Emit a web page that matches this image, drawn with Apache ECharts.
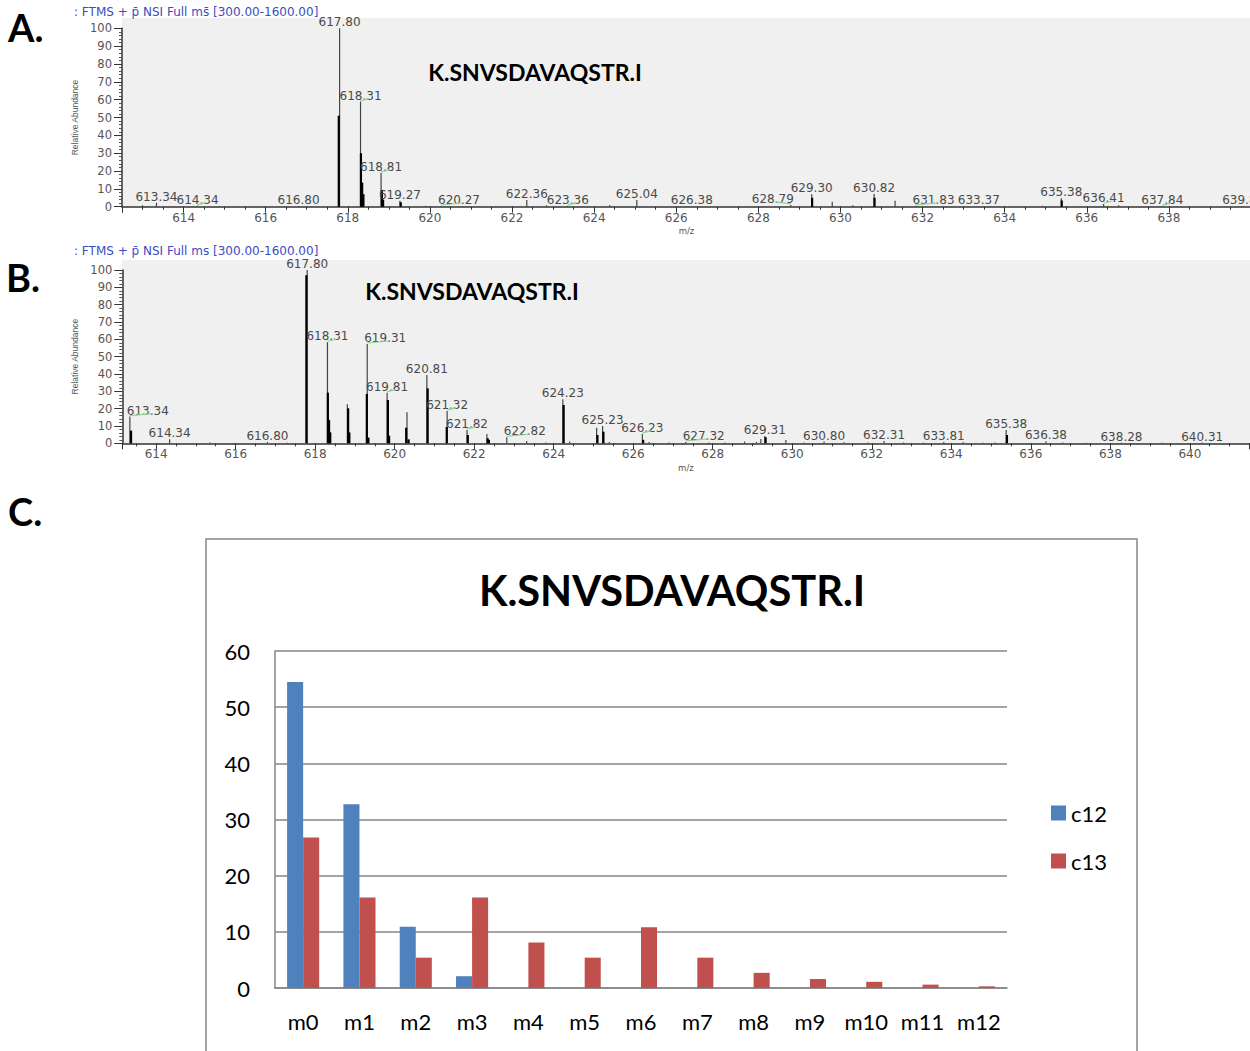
<!DOCTYPE html>
<html><head><meta charset="utf-8">
<script src="https://cdn.jsdelivr.net/npm/echarts@6/dist/echarts.min.js"></script>
<style>html,body{margin:0;padding:0;background:#fff}#c{width:1250px;height:1051px}</style>
</head><body><div id="c"></div>
<script>
// ---------- Panel A: spectrum ----------
const peakMzA  = [613.00, 613.34, 614.34, 616.80, 617.80, 618.31, 618.81, 619.27, 619.90, 620.27, 622.36, 622.84, 623.36, 624.38, 625.04, 626.38, 628.79, 629.30, 629.80, 630.30, 630.82, 631.33, 631.83, 633.37, 634.92, 635.38, 636.41, 636.78, 637.84, 639.81];
const peakIntA = [0.8, 2.2, 0.6, 0.3, 100, 58.9, 19.0, 3.4, 0.5, 0.4, 3.8, 0.8, 0.5, 1.0, 3.8, 0.3, 1.0, 7.0, 2.8, 0.8, 7.1, 3.4, 0.5, 0.3, 0.5, 4.7, 1.5, 0.8, 0.3, 0.3];
const coreMzA  = [617.78, 618.32, 618.35, 618.38, 618.83, 618.86, 619.29, 629.31, 630.83, 635.39];
const coreIntA = [51, 30, 13.5, 7, 9.4, 4, 2.5, 5, 5, 3.5];
const labelMzA = [613.34, 614.34, 616.80, 617.80, 618.31, 618.81, 619.27, 620.27, 622.36, 623.36, 625.04, 626.38, 628.79, 629.30, 630.82, 631.83, 633.37, 635.38, 636.41, 637.84, 639.81];

// ---------- Panel B: spectrum ----------
const peakMzB  = [613.34, 614.34, 615.35, 616.80, 617.30, 617.80, 618.31, 618.81, 619.31, 619.81, 620.31, 620.81, 621.32, 621.82, 622.32, 622.82, 623.32, 623.80, 624.23, 624.40, 625.08, 625.23, 625.40, 626.23, 626.40, 626.90, 627.32, 627.90, 628.30, 628.80, 629.10, 629.21, 629.31, 629.84, 630.30, 630.80, 631.30, 631.90, 632.31, 632.80, 633.30, 633.81, 634.30, 634.80, 635.10, 635.38, 636.38, 636.80, 637.40, 638.28, 639.30, 640.31];
const peakIntB = [15.4, 2.3, 0.4, 0.8, 0.3, 100, 58.3, 22.5, 57.3, 29.2, 17.9, 39.4, 18.7, 7.7, 5.4, 3.5, 1.3, 0.4, 25.4, 1.0, 9.0, 10.0, 0.8, 5.4, 0.8, 0.4, 0.8, 0.4, 0.5, 1.0, 0.8, 2.5, 4.2, 1.9, 0.5, 1.0, 0.6, 0.5, 1.3, 0.5, 0.4, 0.8, 0.6, 0.3, 0.4, 7.7, 1.2, 0.5, 0.3, 0.4, 0.3, 0.4];
const coreMzB  = [613.37, 617.78, 618.32, 618.35, 618.38, 618.83, 618.86, 619.30, 619.34, 619.83, 619.86, 620.29, 620.35, 620.83, 621.31, 621.84, 622.34, 622.37, 624.25, 625.10, 625.25, 626.25, 629.33, 635.40];
const coreIntB = [7.3, 97, 29.2, 13.5, 6.3, 20.2, 6.3, 28.5, 3.3, 25, 4.4, 9, 2.3, 31.7, 9.4, 4.8, 2.9, 2.0, 22.1, 4.8, 6.7, 2.0, 3.5, 4.8];
const labelMzB = [613.34, 614.34, 616.80, 617.80, 618.31, 619.31, 619.81, 620.81, 621.32, 621.82, 622.82, 624.23, 625.23, 626.23, 627.32, 629.31, 630.80, 632.31, 633.81, 635.38, 636.38, 638.28, 640.31];

// ---------- Panel C: bar chart ----------
const isoCategories = ['m0', 'm1', 'm2', 'm3', 'm4', 'm5', 'm6', 'm7', 'm8', 'm9', 'm10', 'm11', 'm12'];
const c12Values = [54.5, 32.7, 10.9, 2.1, 0, 0, 0, 0, 0, 0, 0, 0, 0];
const c13Values = [26.8, 16.1, 5.4, 16.1, 8.1, 5.4, 10.8, 5.4, 2.7, 1.6, 1.1, 0.6, 0.3];
const yTicksC = [0, 10, 20, 30, 40, 50, 60];

const peptide = 'K.SNVSDAVAQSTR.I';

// label styles of the instrument output: shifted labels and green flag marks
const labelAlignA = {'620.27': 'left', '631.83': 'left', '628.79': 'right'};
const labelAlignB = {'613.34': 'left', '619.31': 'left', '622.82': 'left', '627.32': 'left'};
const greenMarkA = ['614.34', '618.31', '618.81', '620.27', '623.36', '628.79', '631.83', '636.41', '637.84'];
const greenMarkB = ['613.34', '618.31', '619.31', '619.81', '621.32', '621.82', '622.82', '626.23', '627.32'];

const specFont = '"DejaVu Sans", sans-serif';
const excelFont = 'Lato, "Open Sans", sans-serif';

function pairs(xs, ys) { return xs.map((x, i) => [x, ys[i]]); }
function labelPairs(labels, xs, ys) {
  return labels.map(m => {
    let best = 0, d = 1e9;
    xs.forEach((x, i) => { const dd = Math.abs(x - m); if (dd < d) { d = dd; best = i; } });
    return [m, ys[best]];
  });
}

function stickRender(width, color) {
  return function (params, api) {
    const p0 = api.coord([api.value(0), 0]);
    const p1 = api.coord([api.value(0), api.value(1)]);
    return {type: 'line', shape: {x1: p0[0], y1: p0[1], x2: p1[0], y2: p1[1]},
      style: {stroke: color, lineWidth: width}};
  };
}
function labelRender(alignMap, greens) {
  return function (params, api) {
    const mz = api.value(0);
    const p = api.coord([mz, api.value(1)]);
    const txt = mz.toFixed(2);
    const al = alignMap[txt] || 'center';
    let x = p[0];
    if (al === 'left') x -= 3; else if (al === 'right') x += 3;
    const children = [{type: 'text', x: x, y: p[1],
      style: {text: txt, align: al, verticalAlign: 'bottom', fill: '#4a4a4a',
        fontSize: 12, fontFamily: specFont}}];
    if (greens.indexOf(txt) >= 0) {
      const len = al === 'left' ? 22 : (al === 'right' ? -16 : 9);
      children.push({type: 'line', shape: {x1: p[0], y1: p[1] - 1, x2: p[0] + len, y2: p[1] - 3},
        style: {stroke: '#8fd88f', lineWidth: 1.2}});
    }
    return {type: 'group', children: children};
  };
}

const evenInt = v => {
  const r = Math.round(v);
  return (Math.abs(v - r) < 1e-6 && r % 2 === 0) ? String(r) : '';
};

function specAxes(gi, min, max) {
  return [
    {gridIndex: gi, type: 'value', position: 'bottom', min: min, max: max, splitNumber: 56,
      axisLine: {onZero: false, lineStyle: {color: '#333', width: 1.5}},
      axisTick: {length: 3, lineStyle: {color: '#333', width: 1}},
      axisLabel: {formatter: evenInt, color: '#555', fontSize: 12, fontFamily: specFont, margin: 5,
        showMaxLabel: false, showMinLabel: false},
      splitLine: {show: false},
      name: 'm/z', nameLocation: 'middle', nameGap: 20,
      nameTextStyle: {color: '#555', fontSize: 8.5, fontFamily: specFont}},
    {gridIndex: gi, type: 'value', position: 'bottom', min: min, max: max, splitNumber: 14,
      axisLine: {show: false, onZero: false},
      axisTick: {length: 6, lineStyle: {color: '#333', width: 1}},
      axisLabel: {show: false}, splitLine: {show: false}}
  ];
}
function specYAxis(gi) {
  return {gridIndex: gi, type: 'value', min: 0, max: 100, interval: 10,
    axisLine: {show: true, lineStyle: {color: '#333', width: 1.5}},
    axisTick: {show: true, length: 8, lineStyle: {color: '#333'}},
    minorTick: {show: true, splitNumber: 5, length: 3, lineStyle: {color: '#555'}},
    axisLabel: {color: '#555', fontSize: 11.5, fontFamily: specFont, margin: 10},
    splitLine: {show: false},
    name: 'Relative Abundance', nameLocation: 'middle', nameGap: 38, nameRotate: 90,
    nameTextStyle: {color: '#555', fontSize: 8.5, fontFamily: '"Liberation Sans", sans-serif'}};
}

const chart = echarts.init(document.getElementById('c'), null, {renderer: 'svg', width: 1250, height: 1051});

const option = {
  animation: false,
  backgroundColor: '#ffffff',
  grid: [
    {left: 122, top: 28.3, width: 1129, height: 178.4, containLabel: false, outerBoundsMode: 'none'},
    {left: 122.3, top: 270, width: 1127.2, height: 173.3, containLabel: false, outerBoundsMode: 'none'},
    {left: 275, top: 651, width: 732, height: 337, containLabel: false, outerBoundsMode: 'none'}
  ],
  xAxis: [
    ...specAxes(0, 612.5, 640),
    ...specAxes(1, 613.15, 641.5),
    {gridIndex: 2, type: 'category', data: isoCategories,
      axisLine: {show: true, lineStyle: {color: '#868686', width: 1.5}},
      axisTick: {show: false},
      axisLabel: {color: '#000', fontSize: 22, fontFamily: excelFont, margin: 22, interval: 0},
      splitLine: {show: false}}
  ],
  yAxis: [
    specYAxis(0),
    specYAxis(1),
    {gridIndex: 2, type: 'value', min: yTicksC[0], max: yTicksC[yTicksC.length - 1], interval: yTicksC[1] - yTicksC[0],
      axisLine: {show: true, lineStyle: {color: '#868686', width: 1.5}},
      axisTick: {show: false},
      axisLabel: {color: '#000', fontSize: 22, fontFamily: excelFont, margin: 25},
      splitLine: {show: true, lineStyle: {color: '#868686', width: 1.5}}}
  ],
  legend: {
    data: ['c12', 'c13'], orient: 'vertical', left: 1051, top: 802, padding: 0,
    itemWidth: 15, itemHeight: 15, itemGap: 26, icon: 'rect', selectedMode: false,
    textStyle: {color: '#000', fontSize: 22, fontFamily: excelFont, lineHeight: 22}
  },
  series: [
    {type: 'custom', xAxisIndex: 0, yAxisIndex: 0, renderItem: stickRender(1.2, '#444'), data: pairs(peakMzA, peakIntA), clip: false, silent: true},
    {type: 'custom', xAxisIndex: 1, yAxisIndex: 0, renderItem: stickRender(2.2, '#000'), data: pairs(coreMzA, coreIntA), clip: false, silent: true},
    {type: 'custom', xAxisIndex: 0, yAxisIndex: 0, renderItem: labelRender(labelAlignA, greenMarkA), data: labelPairs(labelMzA, peakMzA, peakIntA), clip: false, silent: true},
    {type: 'custom', xAxisIndex: 2, yAxisIndex: 1, renderItem: stickRender(1.2, '#444'), data: pairs(peakMzB, peakIntB), clip: false, silent: true},
    {type: 'custom', xAxisIndex: 3, yAxisIndex: 1, renderItem: stickRender(2.2, '#000'), data: pairs(coreMzB, coreIntB), clip: false, silent: true},
    {type: 'custom', xAxisIndex: 2, yAxisIndex: 1, renderItem: labelRender(labelAlignB, greenMarkB), data: labelPairs(labelMzB, peakMzB, peakIntB), clip: false, silent: true},
    {name: 'c12', type: 'bar', xAxisIndex: 4, yAxisIndex: 2, data: c12Values,
      barGap: '0%', barCategoryGap: '43%', itemStyle: {color: '#4F81BD'}},
    {name: 'c13', type: 'bar', xAxisIndex: 4, yAxisIndex: 2, data: c13Values,
      barGap: '0%', barCategoryGap: '43%', itemStyle: {color: '#C0504D'}}
  ],
  graphic: [
    {type: 'rect', z: -100, silent: true, shape: {x: 122, y: 18, width: 1130, height: 189}, style: {fill: '#f0f0f0'}},
    {type: 'rect', z: -100, silent: true, shape: {x: 122, y: 260, width: 1130, height: 184}, style: {fill: '#f0f0f0'}},
    {type: 'rect', z: -100, silent: true, shape: {x: 206, y: 539, width: 931, height: 530}, style: {fill: 'none', stroke: '#888', lineWidth: 1.5}},
    {type: 'text', x: 8, y: 27, style: {text: 'A.', fontSize: 38, fontWeight: 'bold', fontFamily: excelFont, fill: '#000', verticalAlign: 'middle'}},
    {type: 'text', x: 6, y: 277, style: {text: 'B.', fontSize: 38, fontWeight: 'bold', fontFamily: excelFont, fill: '#000', verticalAlign: 'middle'}},
    {type: 'text', x: 8, y: 511, style: {text: 'C.', fontSize: 38, fontWeight: 'bold', fontFamily: excelFont, fill: '#000', verticalAlign: 'middle'}},
    {type: 'text', x: 74, y: 12, style: {text: ': FTMS + p\u0304 NSI Full ms\u0304 [300.00-1600.00]', fontSize: 12, fontFamily: specFont, fill: '#3b4cc0', verticalAlign: 'middle'}},
    {type: 'text', x: 74, y: 251, style: {text: ': FTMS + p\u0304 NSI Full ms [300.00-1600.00]', fontSize: 12, fontFamily: specFont, fill: '#3b4cc0', verticalAlign: 'middle'}},
    {type: 'text', x: 535, y: 72, style: {text: peptide, fontSize: 23, fontWeight: 'bold', fontFamily: excelFont, fill: '#000', align: 'center', verticalAlign: 'middle'}},
    {type: 'text', x: 472, y: 291, style: {text: peptide, fontSize: 23, fontWeight: 'bold', fontFamily: excelFont, fill: '#000', align: 'center', verticalAlign: 'middle'}},
    {type: 'text', x: 672, y: 590, style: {text: peptide, fontSize: 41.6, fontWeight: 'bold', fontFamily: excelFont, fill: '#000', align: 'center', verticalAlign: 'middle'}}
  ]
};
chart.setOption(option);
</script>
</body></html>
